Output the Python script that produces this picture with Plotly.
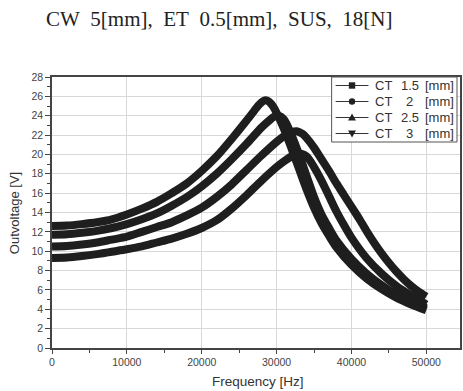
import plotly.graph_objects as go

NB = "\u00a0"

# ---- data ----
freq_ct15 = [0, 2000, 4000, 6000, 8000, 10000, 12000, 14000, 16000, 18000, 20000, 22000, 24000, 26000,
             27000, 27500, 28000, 28500, 29000, 29500, 30000, 31000, 32000, 33000, 34000, 35000, 36000,
             37000, 38000, 40000, 42000, 44000, 46000, 48000, 50000]
volt_ct15 = [12.6, 12.65, 12.8, 13.0, 13.3, 13.8, 14.4, 15.1, 16.0, 17.0, 18.3, 19.8, 21.6, 23.5,
             24.5, 25.0, 25.4, 25.6, 25.45, 25.0, 24.3, 22.6, 20.6, 18.5, 16.4, 14.5, 12.9,
             11.6, 10.4, 8.6, 7.2, 6.1, 5.2, 4.5, 3.9]

freq_ct2 = [0, 2000, 4000, 6000, 8000, 10000, 12000, 14000, 16000, 18000, 20000, 22000, 24000, 26000,
            28000, 29000, 29700, 30300, 31000, 32000, 33000, 34000, 35000, 36000, 37000, 38000,
            40000, 42000, 44000, 46000, 48000, 50000]
volt_ct2 = [11.7, 11.75, 11.9, 12.1, 12.4, 12.8, 13.3, 13.9, 14.7, 15.6, 16.7, 18.0, 19.5, 21.1,
            22.8, 23.5, 23.9, 24.0, 23.6, 22.0, 20.0, 17.8, 15.6, 13.8, 12.4, 11.1,
            9.2, 7.7, 6.5, 5.5, 4.7, 4.1]

freq_ct25 = [0, 2000, 4000, 6000, 8000, 10000, 12000, 14000, 16000, 18000, 20000, 22000, 24000, 26000,
             28000, 30000, 31000, 32000, 32700, 33500, 34000, 35000, 36000, 37000, 38000, 39000, 40000,
             41000, 42000, 43000, 44000, 45000, 46000, 47000, 48000, 49000, 50000]
volt_ct25 = [10.5, 10.55, 10.7, 10.9, 11.2, 11.5, 12.0, 12.5, 13.0, 13.7, 14.5, 15.6, 16.9, 18.4,
             19.9, 21.3, 21.9, 22.3, 22.4, 22.1, 21.7, 20.7, 19.5, 18.3, 17.0, 15.8, 14.6,
             13.4, 12.1, 10.9, 9.8, 8.8, 7.9, 7.1, 6.4, 5.8, 5.3]

freq_ct3 = [0, 2000, 4000, 6000, 8000, 10000, 12000, 14000, 16000, 18000, 20000, 22000, 24000, 26000,
            28000, 30000, 31000, 32000, 33000, 34000, 35000, 36000, 37000, 38000, 39000, 40000,
            42000, 44000, 46000, 48000, 50000]
volt_ct3 = [9.3, 9.35, 9.5, 9.7, 9.95, 10.2, 10.5, 10.9, 11.3, 11.8, 12.4, 13.2, 14.4, 15.8,
            17.3, 18.7, 19.3, 19.8, 20.1, 19.8, 18.7, 17.3, 15.7, 14.1, 12.7, 11.4,
            9.3, 7.7, 6.4, 5.4, 4.5]

legend_prefix = ["CT", "CT", "CT", "CT"]
legend_values = ["1.5", "2", "2.5", "3"]
legend_unit = ["[mm]", "[mm]", "[mm]", "[mm]"]
series_x = [freq_ct15, freq_ct2, freq_ct25, freq_ct3]
series_y = [volt_ct15, volt_ct2, volt_ct25, volt_ct3]
symbols = ["square", "circle", "triangle-up", "triangle-down"]

x_ticks = [0, 10000, 20000, 30000, 40000, 50000]
y_ticks = list(range(0, 29, 2))

title_text = f"CW{NB}{NB}5[mm],{NB}{NB}ET{NB}{NB}0.5[mm],{NB}{NB}SUS,{NB}{NB}18[N]"
x_title = "Frequency [Hz]"
y_title = "Outvoltage [V]"

INK = "#1e1e1e"

PLOT_L, PLOT_R, PLOT_T, PLOT_B = 52, 462, 77, 348
W, H = 463, 391
pw, ph = PLOT_R - PLOT_L, PLOT_B - PLOT_T


def px(xp):
    return (xp - PLOT_L) / pw


def py(yp):
    return (PLOT_B - yp) / ph


fig = go.Figure()
for i, (xs, ys) in enumerate(zip(series_x, series_y)):
    fig.add_trace(go.Scatter(x=xs, y=ys, mode="lines", showlegend=False,
                             name=f"{legend_prefix[i]} {legend_values[i]} {legend_unit[i]}",
                             line=dict(color=INK, width=8, shape="spline", smoothing=0.8),
                             hoverinfo="skip"))

# ---- hand-drawn legend box (compact, like the reference) ----
shapes = []
annotations = []
BOX_L, BOX_R, BOX_T, BOX_B = 333, 459, 77, 142
shapes.append(dict(type="rect", xref="paper", yref="paper",
                   x0=px(BOX_L), x1=px(BOX_R), y0=py(BOX_B), y1=py(BOX_T),
                   line=dict(color="#555", width=1), fillcolor="white", layer="above"))
row_y = [85.5, 101.5, 117.5, 133.5]
for i in range(4):
    yc = row_y[i]
    shapes.append(dict(type="line", xref="paper", yref="paper",
                       x0=px(337), x1=px(370), y0=py(yc), y1=py(yc),
                       line=dict(color="#333", width=1.2), layer="above"))
    cx, r = 353.5, 3.2
    if symbols[i] == "square":
        shapes.append(dict(type="rect", xref="paper", yref="paper",
                           x0=px(cx - r), x1=px(cx + r), y0=py(yc + r), y1=py(yc - r),
                           fillcolor="#222", line=dict(width=0), layer="above"))
    elif symbols[i] == "circle":
        shapes.append(dict(type="circle", xref="paper", yref="paper",
                           x0=px(cx - r), x1=px(cx + r), y0=py(yc + r), y1=py(yc - r),
                           fillcolor="#222", line=dict(width=0), layer="above"))
    elif symbols[i] == "triangle-up":
        shapes.append(dict(type="path", xref="paper", yref="paper",
                           path=f"M {px(cx - 4)} {py(yc + 3)} L {px(cx + 4)} {py(yc + 3)} L {px(cx)} {py(yc - 4)} Z",
                           fillcolor="#222", line=dict(width=0), layer="above"))
    else:
        shapes.append(dict(type="path", xref="paper", yref="paper",
                           path=f"M {px(cx - 4)} {py(yc - 3)} L {px(cx + 4)} {py(yc - 3)} L {px(cx)} {py(yc + 4)} Z",
                           fillcolor="#222", line=dict(width=0), layer="above"))
    lf = dict(family="Liberation Sans, Arial", size=13, color="#333")
    annotations.append(dict(text=legend_prefix[i], xref="paper", yref="paper", x=px(375), y=py(yc),
                            xanchor="left", yanchor="middle", showarrow=False, font=lf))
    annotations.append(dict(text=legend_values[i], xref="paper", yref="paper", x=px(411.5), y=py(yc),
                            xanchor="center", yanchor="middle", showarrow=False, font=lf))
    annotations.append(dict(text=legend_unit[i], xref="paper", yref="paper", x=px(458), y=py(yc),
                            xanchor="right", yanchor="middle", showarrow=False, font=lf))

annotations.append(dict(text=title_text, xref="paper", yref="paper",
                        x=px(220), y=py(19), xanchor="center", yanchor="middle", showarrow=False,
                        font=dict(family="Liberation Serif, Times New Roman", size=21, color="#222")))
annotations.append(dict(text=y_title, xref="paper", yref="paper", textangle=-90,
                        x=px(14), y=py(213), xanchor="center", yanchor="middle", showarrow=False,
                        font=dict(family="Liberation Sans, Arial", size=13, color="#333")))
annotations.append(dict(text=x_title, xref="paper", yref="paper",
                        x=px(259), y=py(381), xanchor="center", yanchor="middle", showarrow=False,
                        font=dict(family="Liberation Sans, Arial", size=13.5, color="#333")))

fig.update_layout(
    width=W, height=H,
    margin=dict(l=PLOT_L, r=W - PLOT_R, t=PLOT_T, b=H - PLOT_B),
    paper_bgcolor="white", plot_bgcolor="white",
    font=dict(family="Liberation Sans, Arial", color="#333"),
    showlegend=False,
    shapes=shapes,
    annotations=annotations,
)

fig.update_xaxes(range=[0, 54500], tickvals=x_ticks, ticktext=[str(v) for v in x_ticks],
                 showline=True, linecolor="#444", linewidth=1.5, mirror=True,
                 showgrid=True, gridcolor="#d8d8d8", gridwidth=1,
                 ticks="outside", ticklen=4, tickcolor="#444", tickwidth=1,
                 minor=dict(dtick=5000, tick0=0, ticks="outside", ticklen=3, tickcolor="#444", showgrid=False),
                 tickfont=dict(size=10.5, color="#444"), zeroline=False)
fig.update_yaxes(range=[0, 28], tickvals=y_ticks, ticktext=[str(v) for v in y_ticks],
                 showline=True, linecolor="#444", linewidth=1.5, mirror=True,
                 showgrid=True, gridcolor="#d8d8d8", gridwidth=1,
                 ticks="outside", ticklen=5, tickcolor="#444", tickwidth=1,
                 minor=dict(dtick=1, tick0=0, ticks="outside", ticklen=3, tickcolor="#444", showgrid=False),
                 tickfont=dict(size=10.5, color="#444"), zeroline=False)

fig.write_html("out.html")
